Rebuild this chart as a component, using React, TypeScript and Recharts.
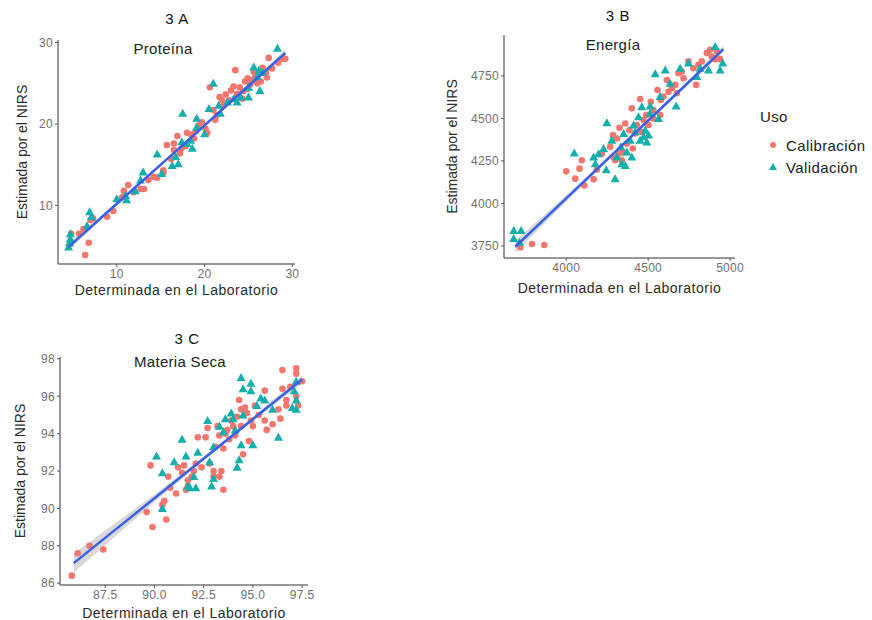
import React from 'react';
import { ComposedChart, XAxis, YAxis, Scatter, Line, Area } from 'recharts';

// ---------- Data ----------
const usoCategories = ['Calibración', 'Validación'];
const xAxisTitle = 'Determinada en el Laboratorio';
const yAxisTitle = 'Estimada por el NIRS';

// 3 A  Proteína
const proteinaCalibracion: [number, number][] = [
  [4.7, 5.3], [4.8, 6.5], [5.7, 6.5], [6.2, 7.1], [6.4, 3.9], [6.8, 5.4], [7.0, 8.2], [7.3, 8.4],
  [8.9, 8.6], [9.6, 9.3], [10.6, 11.0], [10.8, 11.8], [11.3, 12.5], [11.9, 11.6], [12.7, 12.0],
  [13.1, 12.0], [13.6, 13.1], [14.2, 13.5], [14.6, 13.4], [15.3, 14.3], [15.3, 14.0], [15.7, 17.4],
  [16.2, 15.7], [16.5, 17.6], [16.5, 16.8], [16.9, 18.5], [17.2, 16.4], [17.4, 17.0], [18.0, 18.9],
  [18.5, 18.7], [18.8, 18.2], [19.3, 19.8], [19.7, 20.2], [20.1, 19.4], [20.3, 18.9], [20.6, 24.5],
  [21.0, 21.7], [21.2, 20.5], [21.4, 21.1], [21.7, 23.3], [22.0, 22.9], [22.4, 23.6], [22.8, 22.9],
  [23.0, 24.1], [23.3, 24.6], [23.5, 26.6], [23.7, 23.7], [24.0, 24.5], [24.3, 23.1], [24.6, 25.2],
  [24.9, 24.3], [24.9, 25.6], [25.2, 24.8], [25.4, 25.4], [25.8, 26.0], [26.0, 25.0], [26.4, 25.2],
  [27.0, 26.3], [27.1, 25.7], [27.3, 28.1], [27.7, 26.8], [28.4, 27.5], [28.9, 28.0], [29.2, 28.0],
  [22.1, 22.2], [19.0, 19.1], [17.8, 17.3], [25.6, 26.4], [26.6, 26.9], [24.4, 24.0],
];
const proteinaValidacion: [number, number][] = [
  [4.5, 4.9], [4.6, 5.4], [4.7, 6.5], [4.7, 5.9], [6.6, 7.5], [6.9, 9.2], [7.1, 8.6], [10.0, 10.8],
  [11.0, 11.2], [11.1, 10.7], [12.1, 11.8], [13.0, 14.1], [12.7, 13.1], [14.6, 16.3], [15.1, 13.9],
  [16.3, 14.9], [16.7, 16.0], [17.0, 15.1], [17.5, 21.3], [17.4, 17.8], [18.0, 17.6], [18.4, 18.0],
  [18.6, 17.0], [19.1, 20.7], [19.1, 19.6], [20.0, 18.8], [20.5, 21.9], [21.0, 25.0], [21.6, 22.3],
  [21.8, 21.3], [22.6, 22.7], [23.3, 23.1], [23.7, 22.7], [24.1, 23.3], [25.0, 23.3], [25.0, 24.5],
  [25.6, 27.0], [26.0, 25.8], [26.2, 26.6], [26.3, 24.1], [26.6, 26.3], [28.3, 29.3],
];
const proteinaAjusteX = [4.5, 10, 17, 24, 29.2];
const proteinaAjusteY = [4.9, 10.2, 16.9, 23.7, 28.7];
const proteinaBanda = [0.45, 0.22, 0.14, 0.18, 0.4];

// 3 B  Energía
const energiaCalibracion: [number, number][] = [
  [3720, 3742], [3791, 3762], [3866, 3756], [4000, 4189], [4055, 4146], [4081, 4205], [4095, 4254],
  [4110, 4106], [4167, 4142], [4187, 4199], [4217, 4293], [4268, 4333], [4285, 4402], [4299, 4254],
  [4309, 4382], [4319, 4293], [4325, 4445], [4339, 4254], [4360, 4470], [4370, 4352], [4386, 4431],
  [4400, 4559], [4406, 4323], [4421, 4411], [4431, 4461], [4451, 4614], [4472, 4490], [4488, 4520],
  [4502, 4461], [4516, 4598], [4532, 4549], [4557, 4667], [4573, 4520], [4577, 4608], [4593, 4628],
  [4614, 4726], [4624, 4657], [4644, 4677], [4665, 4697], [4675, 4648], [4685, 4766], [4705, 4776],
  [4716, 4736], [4746, 4835], [4776, 4795], [4793, 4697], [4807, 4815], [4827, 4835], [4858, 4884],
  [4878, 4903], [4888, 4864], [4909, 4848], [4939, 4848], [4919, 4894], [4290, 4270], [4345, 4300],
  [4460, 4420], [4530, 4500],
];
const energiaValidacion: [number, number][] = [
  [3679, 3841], [3724, 3841], [3679, 3795], [3715, 3772], [4049, 4297], [4167, 4274], [4177, 4234],
  [4197, 4293], [4244, 4199], [4248, 4474], [4228, 4323], [4278, 4372], [4298, 4146], [4309, 4274],
  [4333, 4333], [4339, 4234], [4350, 4411], [4360, 4224], [4370, 4303], [4390, 4372], [4400, 4274],
  [4411, 4461], [4421, 4421], [4441, 4510], [4451, 4372], [4461, 4569], [4472, 4392], [4482, 4431],
  [4492, 4362], [4502, 4402], [4512, 4573], [4512, 4530], [4543, 4762], [4563, 4500], [4573, 4628],
  [4604, 4785], [4634, 4707], [4671, 4573], [4695, 4795], [4746, 4825], [4797, 4746], [4817, 4795],
  [4868, 4785], [4909, 4923], [4939, 4785], [4955, 4825],
];
const energiaAjusteX = [3689, 4000, 4350, 4700, 4959];
const energiaAjusteY = [3746, 4030, 4350, 4670, 4907];
const energiaBanda = [35, 18, 10, 12, 20];

// 3 C  Materia Seca
const materiaCalibracion: [number, number][] = [
  [85.8, 86.4], [86.1, 87.6], [86.7, 88.0], [87.4, 87.8], [89.6, 89.8], [89.9, 89.0], [89.8, 92.3],
  [90.4, 90.2], [90.5, 90.4], [90.6, 89.4], [90.7, 91.7], [90.8, 91.1], [91.1, 90.8], [91.2, 92.2],
  [91.4, 91.9], [91.5, 92.3], [91.7, 91.5], [91.7, 91.2], [91.9, 91.7], [92.0, 92.0], [92.1, 92.4],
  [92.2, 93.8], [92.4, 92.2], [92.6, 93.8], [92.7, 94.3], [92.8, 92.4], [93.0, 91.7], [93.0, 92.0],
  [93.1, 93.3], [93.2, 94.4], [93.3, 93.9], [93.3, 91.7], [93.4, 92.0], [93.5, 91.0], [93.5, 93.2],
  [93.7, 94.2], [93.8, 93.7], [93.9, 94.7], [94.0, 94.4], [94.1, 93.9], [94.2, 94.9], [94.3, 95.8],
  [94.4, 94.4], [94.4, 95.3], [94.5, 92.9], [94.6, 95.4], [94.7, 95.1], [94.8, 93.6], [94.9, 94.7],
  [95.0, 94.4], [95.1, 95.5], [95.3, 95.0], [95.6, 94.7], [95.6, 96.3], [95.7, 94.2], [96.0, 94.5],
  [96.3, 95.3], [96.4, 94.8], [96.5, 97.4], [96.5, 96.4], [96.7, 95.8], [96.7, 95.5], [96.9, 96.5],
  [97.2, 97.5], [97.2, 97.2], [97.2, 96.0], [97.3, 95.5], [97.5, 96.8], [91.6, 91.0], [93.6, 94.0],
];
const materiaValidacion: [number, number][] = [
  [90.1, 92.8], [90.4, 90.0], [90.4, 91.9], [91.0, 92.5], [91.4, 93.7], [91.6, 92.8], [91.7, 91.2],
  [91.8, 91.1], [92.0, 91.7], [92.1, 91.1], [92.2, 93.0], [92.7, 94.7], [92.8, 92.5], [92.9, 91.2],
  [93.0, 91.6], [93.0, 93.3], [93.3, 94.4], [93.5, 94.1], [93.6, 94.8], [93.9, 95.1], [94.0, 94.8],
  [94.1, 94.2], [94.2, 92.2], [94.3, 92.6], [94.4, 97.0], [94.5, 96.4], [94.5, 95.0], [94.4, 93.4],
  [94.9, 96.7], [94.9, 96.3], [95.0, 93.4], [95.2, 95.5], [95.4, 95.9], [95.6, 95.8], [96.0, 95.3],
  [96.3, 93.8], [97.0, 95.4], [97.1, 96.3], [97.2, 95.3], [97.2, 95.8], [97.2, 96.8],
];
const materiaAjusteX = [85.9, 88, 90, 92, 94, 96, 97.5];
const materiaAjusteY = [87.07, 88.85, 90.54, 92.24, 93.93, 95.63, 96.9];
const materiaBanda = [0.5, 0.35, 0.2, 0.12, 0.1, 0.15, 0.22];

// ---------- Styles ----------
const CAL = '#F2766E';
const VAL = '#14AFAB';
const FIT = '#3A60E4';
const FONT = '"Liberation Sans", Arial, sans-serif';

const DotShape = (p: any) => <circle cx={p.cx} cy={p.cy} r={3.3} fill={CAL} />;
const TriShape = (p: any) => (
  <polygon points={`${p.cx},${p.cy - 4.5} ${p.cx - 4.5},${p.cy + 3.5} ${p.cx + 4.5},${p.cy + 3.5}`} fill={VAL} />
);

type PanelProps = {
  left: number; top: number; width: number; height: number;
  yAxisW: number; xAxisH: number; mTop: number; mRight: number;
  xDomain: [number, number]; yDomain: [number, number];
  xTicks: number[]; yTicks: number[]; xFmt?: (v: number) => string;
  cal: [number, number][]; val: [number, number][];
  fitX: number[]; fitY: number[]; band: number[];
  xOff: number; yOff: number;
};

function Panel(props: PanelProps) {
  const calData = props.cal.map(([x, y]) => ({ x, y }));
  const valData = props.val.map(([x, y]) => ({ x, y }));
  const fitData = props.fitX.map((x, i) => ({ x, y: props.fitY[i] }));
  const bandData = props.fitX.map((x, i) => ({ x, band: [props.fitY[i] - props.band[i], props.fitY[i] + props.band[i]] }));
  const tick = { fontSize: 12, fill: '#707070', fontFamily: FONT, letterSpacing: 0.3 };
  return (
    <div style={{ position: 'absolute', left: props.left, top: props.top }}>
      <ComposedChart width={props.width} height={props.height}
        margin={{ top: props.mTop, right: props.mRight, left: 0, bottom: 0 }}>
        <XAxis type="number" dataKey="x" domain={props.xDomain} ticks={props.xTicks} allowDataOverflow
          height={props.xAxisH} tickSize={3} tickMargin={2} tick={tick} tickFormatter={props.xFmt}
          axisLine={{ stroke: '#333' }} tickLine={{ stroke: '#555' }}
          label={{ value: xAxisTitle, position: 'insideBottom', offset: props.xOff,
            style: { fontSize: 14, fill: '#2a2a2a', fontFamily: FONT, letterSpacing: 0.5 } }} />
        <YAxis type="number" dataKey="y" domain={props.yDomain} ticks={props.yTicks} allowDataOverflow
          width={props.yAxisW} tickSize={3} tickMargin={2} tick={tick}
          axisLine={{ stroke: '#333' }} tickLine={{ stroke: '#555' }}
          label={{ value: yAxisTitle, angle: -90, position: 'insideLeft', offset: props.yOff,
            style: { fontSize: 14, fill: '#2a2a2a', textAnchor: 'middle', fontFamily: FONT } }} />
        <Area data={bandData} dataKey="band" type="linear" stroke="none" fill="#b8b8b8" fillOpacity={0.55}
          isAnimationActive={false} activeDot={false} />
        <Scatter data={calData} dataKey="y" shape={DotShape} isAnimationActive={false} />
        <Scatter data={valData} dataKey="y" shape={TriShape} isAnimationActive={false} />
        <Line data={fitData} dataKey="y" type="linear" stroke={FIT} strokeWidth={2.5} dot={false}
          activeDot={false} isAnimationActive={false} zIndex={700} />
      </ComposedChart>
    </div>
  );
}

const centered = (x: number, y: number, size: number, text: string, color = '#1a1a1a', ls = 0.3) => (
  <div style={{ position: 'absolute', left: x, top: y, transform: 'translate(-50%, -50%)', fontSize: size,
    color, fontFamily: FONT, whiteSpace: 'nowrap', lineHeight: 1, letterSpacing: ls }}>{text}</div>
);

export default function App() {
  return (
    <div style={{ position: 'absolute', left: 0, top: 0, width: 872, height: 620, background: '#fff', fontFamily: FONT }}>
      <Panel left={0} top={0} width={310} height={300} yAxisW={58} xAxisH={36} mTop={40} mRight={15}
        xDomain={[3.3, 30.3]} yDomain={[2.8, 30.3]} xTicks={[10, 20, 30]} yTicks={[10, 20, 30]}
        cal={proteinaCalibracion} val={proteinaValidacion}
        fitX={proteinaAjusteX} fitY={proteinaAjusteY} band={proteinaBanda} xOff={5} yOff={22} />
      <Panel left={430} top={0} width={320} height={300} yAxisW={74} xAxisH={42} mTop={35} mRight={15}
        xDomain={[3620, 5030]} yDomain={[3680, 4990]} xTicks={[4000, 4500, 5000]} yTicks={[3750, 4000, 4250, 4500, 4750]}
        cal={energiaCalibracion} val={energiaValidacion}
        fitX={energiaAjusteX} fitY={energiaAjusteY} band={energiaBanda} xOff={7} yOff={22} />
      <Panel left={0} top={320} width={330} height={300} yAxisW={60} xAxisH={35} mTop={37} mRight={22}
        xDomain={[85.2, 97.8]} yDomain={[85.9, 98.1]} xTicks={[87.5, 90, 92.5, 95, 97.5]} yTicks={[86, 88, 90, 92, 94, 96, 98]}
        xFmt={(v: number) => v.toFixed(1)}
        cal={materiaCalibracion} val={materiaValidacion}
        fitX={materiaAjusteX} fitY={materiaAjusteY} band={materiaBanda} xOff={2} yOff={20} />

      {centered(177, 18, 15, '3 A', '#111', 0.6)}
      {centered(163, 48, 15, 'Proteína', '#222')}
      {centered(618, 15, 15, '3 B', '#111', 0.6)}
      {centered(613, 44, 15, 'Energía', '#222')}
      {centered(187, 338, 15, '3 C', '#111', 0.6)}
      {centered(180, 361, 15, 'Materia Seca', '#222')}

      <div style={{ position: 'absolute', left: 760, top: 109, fontSize: 15, color: '#222', fontFamily: FONT, lineHeight: 1, letterSpacing: 0.3 }}>Uso</div>
      {usoCategories.map((c, i) => (
        <div key={c} style={{ position: 'absolute', left: 766, top: 136 + i * 22, height: 18, display: 'flex', alignItems: 'center',
          fontSize: 15, color: '#222', fontFamily: FONT, letterSpacing: 0.4 }}>
          <svg width={14} height={14} style={{ marginRight: 6 }}>
            {i === 0
              ? <circle cx={7} cy={7} r={3} fill={CAL} />
              : <polygon points="7,3 3,10 11,10" fill={VAL} />}
          </svg>
          {c}
        </div>
      ))}
    </div>
  );
}
